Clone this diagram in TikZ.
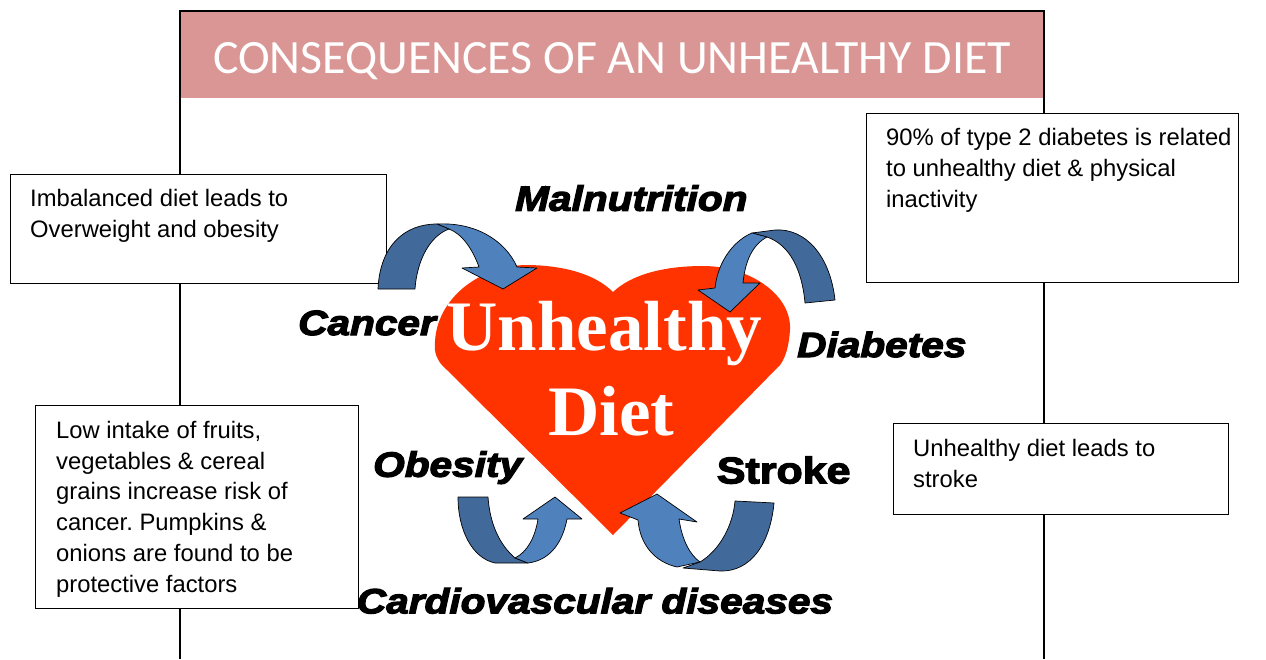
\documentclass[tikz,border=0pt]{standalone}
\usepackage{fontspec}
\usepackage{graphicx}
\setmainfont{Liberation Sans}
\newfontfamily\titlefont{Carlito}
\newfontfamily\heartfont{Liberation Serif}
\newfontfamily\lblfont{Liberation Sans}[FakeBold=3.5,FakeStretch=1.16]
\definecolor{titlepink}{HTML}{D99694}
\definecolor{heartred}{HTML}{FF3300}
\definecolor{lightblue}{HTML}{4F81BD}
\definecolor{darkblue}{HTML}{41699A}
\frenchspacing
\tikzset{
  frame/.style={draw=black,line width=1.5pt},
  infobox/.style={draw=black,fill=white,line width=1.3pt},
  boxtext/.style={anchor=north west,inner sep=0pt,align=left,font=\fontsize{23.8}{31}\selectfont},
  lbl/.style={anchor=base west,inner sep=0pt,font=\lblfont\fontsize{35}{40}\selectfont\bfseries\itshape},
  lblup/.style={anchor=base west,inner sep=0pt,font=\lblfont\fontsize{37}{40}\selectfont\bfseries},
  hearttext/.style={anchor=base,inner sep=0pt,text=white,font=\heartfont\fontsize{71}{80}\selectfont\bfseries},
  arrdark/.style={fill=darkblue,draw=black,line width=0.7pt,line join=round},
  arrlight/.style={fill=lightblue,draw=black,line width=0.7pt,line join=round}
}
\begin{document}
\begin{tikzpicture}[x=1pt,y=-1pt]
\useasboundingbox (0,0) rectangle (1266,659);
\fill[white] (0,0) rectangle (1266,659);
% frame and title
\draw[frame] (180,659) -- (180,11) -- (1044,11) -- (1044,659);
\fill[titlepink] (181,12) rectangle (1043,98);
\node[anchor=base,inner sep=0pt,text=white,font=\titlefont\fontsize{47.8}{50}\selectfont] (title) at (612,73) {CONSEQUENCES OF AN UNHEALTHY DIET};
% boxes
\node[infobox,anchor=north west,minimum width=376.5pt,minimum height=109pt,inner sep=0pt] (b1) at (9.5,173.5) {};
\node[boxtext] (t1) at (30,184.7) {\rule{0pt}{22pt}Imbalanced diet leads to\\Overweight and obesity};
\node[infobox,anchor=north west,minimum width=372pt,minimum height=169pt,inner sep=0pt] (b2) at (866,112.5) {};
\node[boxtext] (t2) at (886,123.7) {\rule{0pt}{22pt}90\% of type 2 diabetes is related\\to unhealthy diet \& physical\\inactivity};
\node[infobox,anchor=north west,minimum width=323pt,minimum height=203pt,inner sep=0pt] (b3) at (35,405) {};
\node[boxtext,font=\fontsize{23.8}{30.7}\selectfont] (t3) at (56,416.3) {\rule{0pt}{22pt}Low intake of fruits,\\vegetables \& cereal\\grains increase risk of\\cancer. Pumpkins \&\\onions are found to be\\protective factors};
\node[infobox,anchor=north west,minimum width=335pt,minimum height=91pt,inner sep=0pt] (b4) at (892.5,422.5) {};
\node[boxtext] (t4) at (913,434.7) {\rule{0pt}{22pt}Unhealthy diet leads to\\stroke};
% heart
\fill[heartred] (613,535) -- (447,370)
  .. controls (440,364) and (436,358) .. (435,350)
  .. controls (432,300) and (480,264) .. (530,265)
  .. controls (565,266) and (595,274) .. (613,292)
  .. controls (632,274) and (665,266) .. (703,266)
  .. controls (750,266) and (792,295) .. (790,330)
  .. controls (789,345) and (786,357) .. (780,365) -- cycle;
\node[hearttext] (unh) at (604.5,350) {Unhealthy};
\node[hearttext] (diet) at (611.5,435) {Diet};
% arrow 1 (top left)
\filldraw[arrlight] (437,224) .. controls (475,222) and (505,240) .. (517,267) -- (537,268) -- (503,289) -- (462,268) -- (479,267)
  .. controls (472,248) and (462,234) .. (449,229) -- cycle;
\filldraw[arrdark] (378,289) .. controls (380,245) and (405,224) .. (437,224) -- (449,229)
  .. controls (430,236) and (417,260) .. (415,289) -- cycle;
% arrow 2 (top right)
\filldraw[arrdark] (835,300) .. controls (830,255) and (805,228) .. (775,230) -- (752,233) -- (767,237)
  .. controls (790,245) and (802,270) .. (805,303) -- cycle;
\filldraw[arrlight] (752,233) .. controls (735,240) and (718,260) .. (715,288) -- (698,290) -- (730,312) -- (760,283) -- (743,283)
  .. controls (745,262) and (752,245) .. (767,237) -- cycle;
% arrow 3 (bottom left)
\filldraw[arrdark] (458,497) .. controls (458,530) and (472,558) .. (495,563) -- (528,563) -- (515,558)
  .. controls (500,545) and (490,525) .. (488,497) -- cycle;
\filldraw[arrlight] (515,558) -- (528,563) .. controls (552,560) and (563,540) .. (567,519) -- (582,519) -- (555,497) -- (523,519) -- (538,519)
  .. controls (535,538) and (527,552) .. (515,558) -- cycle;
% arrow 4 (bottom right)
\filldraw[arrdark] (735,501) -- (774,503) .. controls (770,545) and (750,572) .. (720,571) -- (683,568) -- (700,562)
  .. controls (720,550) and (733,525) .. (735,501) -- cycle;
\filldraw[arrlight] (638,520) -- (620,513) -- (657,494) -- (697,522) -- (679,519)
  .. controls (682,540) and (690,555) .. (700,562) -- (677,567)
  .. controls (655,562) and (640,545) .. (638,520) -- cycle;
% labels
\node[lbl] (maln) at (515,210.7) {Malnutrition};
\node[lbl] (canc) at (298,335) {Cancer};
\node[lbl] (diab) at (797,357) {Diabetes};
\node[lbl] (obes) at (373,476.7) {Obesity};
\node[lblup] (strk) at (716.7,483.3) {Stroke};
\node[lbl] (card) at (356.7,613.3) {Cardiovascular diseases};
\end{tikzpicture}
\end{document}
